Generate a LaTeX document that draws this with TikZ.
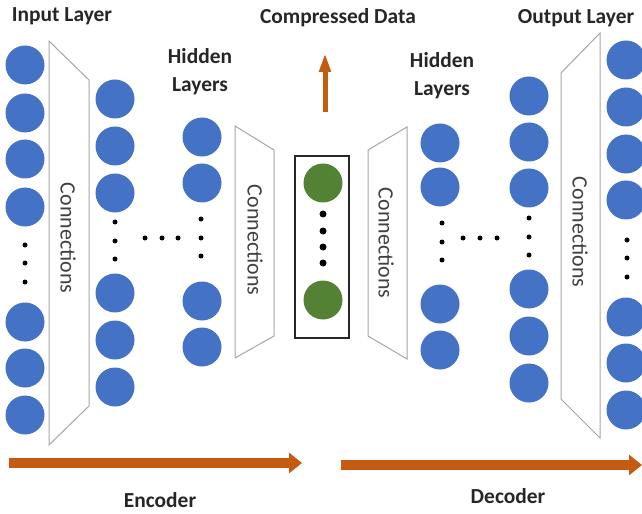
\documentclass[tikz,border=0pt]{standalone}
\usepackage{fontspec}
\setmainfont{Carlito}
\usetikzlibrary{arrows.meta}
\definecolor{neuronblue}{HTML}{4472C4}
\definecolor{codegreen}{HTML}{548235}
\definecolor{flowarrow}{HTML}{C55A11}
\definecolor{labeltext}{HTML}{262626}
\definecolor{connline}{HTML}{A6A6A6}
\definecolor{conntext}{HTML}{404040}
\begin{document}
\begin{tikzpicture}[x=1bp,y=-1bp,
  neuron/.style={circle,fill=neuronblue,inner sep=0pt,minimum size=39bp},
  codeneuron/.style={circle,fill=codegreen,inner sep=0pt,minimum size=39bp},
  smalldot/.style={circle,fill=black,inner sep=0pt,minimum size=5bp},
  bigdot/.style={circle,fill=black,inner sep=0pt,minimum size=7bp},
  title/.style={font=\fontsize{21.5}{27}\selectfont\bfseries,text=labeltext,align=center,inner sep=0pt},
  conntxt/.style={font=\fontsize{22}{26}\selectfont,text=conntext,rotate=-90,inner sep=0pt},
  connbox/.style={draw=connline,line width=1bp,fill=white,line join=miter},
  flow/.style={draw=flowarrow,line width=10bp,-{Triangle[width=20bp,length=13bp]}}]
\useasboundingbox (0,0) rectangle (642,514);

% neuron columns: x position, list of y positions
\foreach \y [count=\i] in {65,113,159,207,322,368,415}
  \node[neuron] (in\i) at (25,\y) {};
\foreach \y [count=\i] in {99,146,193,293,340,387}
  \node[neuron] (ha\i) at (115,\y) {};
\foreach \y [count=\i] in {137,183,301,347}
  \node[neuron] (hb\i) at (202,\y) {};
\foreach \y [count=\i] in {143,187,304,350}
  \node[neuron] (hc\i) at (440,\y) {};
\foreach \y [count=\i] in {96,142,188,289,336,383}
  \node[neuron] (hd\i) at (529,\y) {};
\foreach \y [count=\i] in {60,107,154,200,317,363,410}
  \node[neuron] (out\i) at (626,\y) {};

% ellipsis dots inside the columns
\foreach \y [count=\i] in {245,263,282} \node[smalldot] (ind\i) at (25,\y) {};
\foreach \y [count=\i] in {222,241,259} \node[smalldot] (had\i) at (115,\y) {};
\foreach \y [count=\i] in {219,238,256} \node[smalldot] (hbd\i) at (201,\y) {};
\foreach \y [count=\i] in {223,242,260} \node[smalldot] (hcd\i) at (442,\y) {};
\foreach \y [count=\i] in {218,237,255} \node[smalldot] (hdd\i) at (529,\y) {};
\foreach \y [count=\i] in {240,258,277} \node[smalldot] (outd\i) at (627,\y) {};
% ellipsis dots between hidden layers
\foreach \x [count=\i] in {145,162,178} \node[smalldot] (lhd\i) at (\x,238) {};
\foreach \x [count=\i] in {463,480,497} \node[smalldot] (rhd\i) at (\x,238) {};

% compressed code
\node[draw=black!85,line width=1.2bp,minimum width=54bp,minimum height=182bp,inner sep=0pt] (code) at (322,247) {};
\node[codeneuron] (c1) at (323,183) {};
\node[codeneuron] (c2) at (323,300) {};
\foreach \y [count=\i] in {214,231,247,263} \node[bigdot] (cd\i) at (323,\y) {};

% connection trapezoids
\draw[connbox] (49,41) -- (89,80) -- (89,406) -- (49,445) -- cycle;
\draw[connbox] (235,126) -- (274,150) -- (274,336) -- (235,358) -- cycle;
\draw[connbox] (368,150) -- (407,127) -- (407,359) -- (368,336) -- cycle;
\draw[connbox] (561,73) -- (600,33) -- (600,438) -- (561,399) -- cycle;
\node[conntxt] (t1) at (68,238) {Connections};
\node[conntxt] (t2) at (255,240) {Connections};
\node[conntxt] (t3) at (386,243) {Connections};
\node[conntxt] (t4) at (580,232) {Connections};

% labels
\node[title] (lin) at (62,16) {Input Layer};
\node[title] (lcd) at (338,18) {Compressed Data};
\node[title] (lout) at (576,18) {Output Layer};
\node[title] (lh1) at (200,72) {Hidden\\[1bp]Layers};
\node[title] (lh2) at (442,76) {Hidden\\[1bp]Layers};
\node[title] (lenc) at (160,500) {Encoder};
\node[title] (ldec) at (508,496) {Decoder};

% flow arrows
\coordinate (encA) at (9,463);
\coordinate (encB) at (302,463);
\coordinate (decA) at (341,465);
\coordinate (decB) at (642,465);
\coordinate (upA) at (325,112);
\coordinate (upB) at (325,53);
\draw[flow] (encA) -- (encB);
\draw[flow] (decA) -- (decB);
\draw[draw=flowarrow,line width=5bp,-{Triangle[width=11bp,length=19bp]}] (upA) -- (upB);
\end{tikzpicture}
\end{document}
